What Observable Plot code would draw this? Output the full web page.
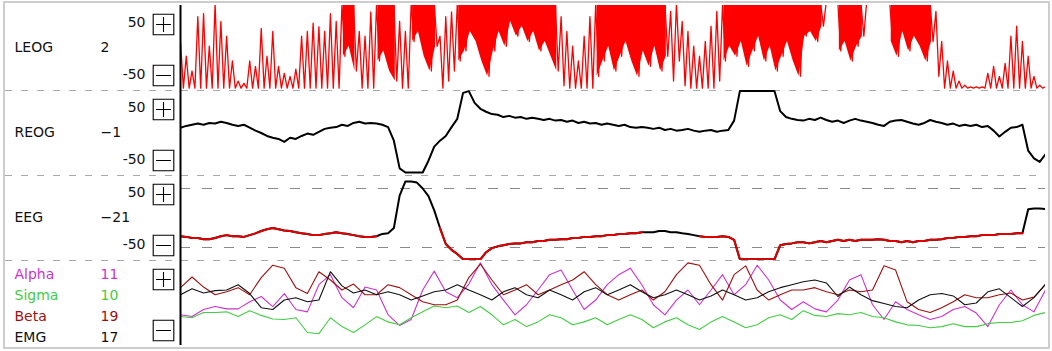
<!DOCTYPE html>
<html>
<head>
<meta charset="utf-8">
<script src="https://cdn.jsdelivr.net/npm/d3@7"></script>
<script src="https://cdn.jsdelivr.net/npm/@observablehq/plot@0.6"></script>
<style>
  body { margin: 0; background: #fff; }
  #wrap { position: relative; width: 1052px; height: 351px; }
  #wrap svg { position: absolute; left: 0; top: 0; }
  #border { position: absolute; left: 3px; top: 1px; width: 1043px; height: 344px;
            border: 2px solid #cdcdcd; pointer-events: none; }
</style>
</head>
<body>
<div id="wrap"><div id="border"></div></div>
<script>
// 30-second epoch viewer: two EOG channels, one EEG channel and band-power traces.
const epoch = 30;          // seconds shown
const leogStep = 0.2;      // envelope column width (s)
const eogStep = 0.2;       // REOG / EEG sample spacing (s)
const bandStep = 0.4;      // band-power sample spacing (s)

const channels = ["LEOG", "REOG", "EEG", "Bands"];
const channelNames = ["LEOG", "REOG", "EEG"];
const channelReadouts = ["2", "−1", "−21"];
const scaleTop = "50";
const scaleBottom = "-50";

// LEOG: per-column upper and lower extent of the fast trace (values above 72 run off the strip)
const leogHi = [11,-14,-39,53,58,3,75,45,20,-22,
  -56,-60,-22,-31,33,-14,28,-31,-43,-48,
  -36,20,28,42,36,28,58,45,75,75,
  75,28,20,61,75,75,75,75,45,28,
  75,75,75,75,75,20,53,61,75,75,
  75,75,75,75,75,75,75,75,75,75,
  75,75,75,75,75,75,53,28,3,-22,
  20,53,75,75,75,75,75,75,75,75,
  75,75,75,75,75,62,75,45,28,3,
  -14,11,37,62,75,75,75,75,75,75,
  75,75,75,75,75,75,75,75,75,75,
  75,75,80,80,75,75,75,75,75,80,
  80,80,80,75,75,75,75,75,75,75,
  75,62,11,-22,-39,-56,-63,-66,-66,-66,
  -43,-31,-48,-26,20,37,11,-14,-48,-63,
  -66];
const leogLo = [-68,-68,-68,-68,-68,-68,-68,-68,-68,-68,
  -68,-68,-68,-68,-68,-68,-68,-68,-68,-68,
  -68,-68,-68,-68,-68,-68,-68,-68,-14,3,
  -39,-68,-68,-68,-22,-5,-39,-56,-68,-68,
  11,28,-14,-39,3,-68,-56,-39,-22,-5,
  28,11,-22,-48,-5,28,3,45,20,37,
  11,28,-5,11,-14,-39,-64,-68,-68,-68,
  -68,-68,-48,-22,3,-39,-14,11,-22,-48,
  -5,-31,3,-39,-14,-56,-22,-64,-68,-68,
  -68,-68,-68,-56,-22,3,-14,11,-31,-5,
  20,-22,3,-39,-14,11,-22,-48,20,28,
  11,37,80,80,-5,11,-22,3,20,80,
  80,80,80,11,-14,28,-5,20,3,-22,
  11,-48,-68,-68,-68,-68,-68,-68,-68,-68,
  -68,-68,-68,-68,-68,-68,-68,-68,-68,-68,
  -68];

const reog = [9,12,14,16,14,17,16,19,17,14,
  12,14,9,4,0,-5,-8,-10,-15,-8,
  -10,-5,-1,-3,2,7,9,10,14,12,
  17,19,16,17,16,14,10,-13,-60,-67,
  -67,-67,-67,-47,-23,-13,-5,10,24,68,
  71,51,41,36,32,31,27,29,26,27,
  24,26,24,22,24,21,22,19,21,17,
  19,16,17,14,16,14,12,14,10,9,
  10,9,7,9,5,7,4,5,7,4,
  2,4,5,2,4,5,21,71,71,71,
  71,71,71,71,37,27,24,22,21,24,
  22,26,22,19,21,17,21,24,21,19,
  17,14,12,19,21,22,19,16,14,17,
  22,19,17,14,16,12,14,12,14,10,
  12,4,-6,2,9,10,14,-30,-43,-49,
  -36];

const eeg = [-31,-32,-34,-34,-36,-36,-34,-31,-29,-31,
  -31,-32,-29,-26,-22,-19,-17,-19,-21,-22,
  -24,-26,-27,-29,-29,-27,-26,-24,-26,-27,
  -29,-31,-32,-32,-31,-27,-26,-17,38,62,
  62,60,50,37,13,-17,-44,-54,-61,-70,
  -70,-70,-70,-58,-51,-48,-46,-44,-43,-43,
  -41,-41,-39,-39,-37,-37,-36,-36,-34,-34,
  -32,-32,-31,-31,-29,-29,-27,-27,-26,-26,
  -24,-24,-24,-22,-22,-24,-24,-26,-27,-29,
  -31,-32,-32,-32,-31,-32,-37,-70,-70,-70,
  -70,-70,-70,-70,-46,-44,-43,-41,-41,-43,
  -41,-39,-41,-39,-37,-39,-37,-39,-37,-37,
  -37,-36,-37,-39,-39,-41,-39,-41,-39,-39,
  -37,-37,-36,-34,-34,-32,-32,-31,-31,-29,
  -29,-29,-27,-27,-27,-26,-26,15,16,16,
  15];
// stretches of the EEG trace drawn in red (start, end seconds)
const eegRed = [[0, 6.8], [9.0, 16.0], [18.0, 29.2]];
const eegRefs = [50, -50];

const bandNames = ["Alpha", "Sigma", "Beta", "EMG"];
const bandReadouts = ["11", "10", "19", "17"];
const bandColors = ["#cc33cc", "#44cc44", "#9e1010", "#111111"];
const alpha = [-20,-23,-11,-6,-10,-10,2,11,-6,16, -11,-15,31,48,9,-8,27,22,-20,-38,
  -28,22,54,19,9,32,68,31,5,-20, -3,22,48,56,22,-11,5,31,48,59,
  31,-3,-20,5,22,-3,22,48,14,31, 64,39,5,-11,2,-10,-15,5,39,48,
  -3,-28,2,-11,-20,-28,-23,-11,-6,-17, -40,-3,22,-3,-15,22];
const sigma = [-23,-25,-16,-16,-15,-23,-13,-21,-27,-28, -25,-50,-52,-25,-40,-50,-37,-23,-32,-37,
  -25,-15,-5,-8,-5,-16,-6,-20,-37,-28, -40,-32,-20,-25,-37,-32,-25,-37,-28,-20,
  -28,-42,-32,-25,-37,-45,-32,-23,-32,-42, -37,-25,-20,-28,-13,-21,-23,-18,-20,-16,
  -23,-25,-32,-37,-38,-42,-40,-35,-40,-40, -35,-33,-33,-30,-21,-16];
const beta = [26,44,27,14,19,26,14,43,64,59, 26,16,53,39,22,32,14,14,31,26,
  14,2,-3,-3,5,43,66,39,14,22, 31,14,22,31,39,53,31,14,5,14,
  22,5,19,48,68,64,31,5,48,63, 22,5,14,22,22,26,19,14,22,19,
  22,63,56,2,-11,-16,-8,2,14,9, 9,14,17,5,10,31];
const emg = [14,24,17,21,22,31,16,-8,-11,5, 9,2,5,53,29,17,22,14,19,14,
  5,12,19,22,31,22,14,5,19,26, 14,9,22,14,5,19,26,14,22,31,
  19,9,14,22,14,5,12,22,14,5, 9,19,26,31,36,39,34,11,27,14,
  4,-1,-6,-8,5,14,16,12,-3,0, 19,24,9,-6,9,32];
const bandValues = [alpha, sigma, beta, emg];

const yDomain = [-72, 72];
const clipLevel = 72;

// ---- tables built from the arrays above ----
const leogData = leogHi.flatMap((h, i) => [
  {panel: "LEOG", t: i * leogStep, v: h},
  {panel: "LEOG", t: i * leogStep + leogStep / 2, v: leogLo[i]}
]);
const leogCols = leogHi.map((h, i) => ({panel: "LEOG", t: i * leogStep + leogStep / 4, hi: h, lo: leogLo[i]}));
const reogData = reog.map((v, i) => ({panel: "REOG", t: i * eogStep, v}));
const eegData = eeg.map((v, i) => {
  const t = i * eogStep;
  return {panel: "EEG", t, v, red: eegRed.some(([a, b]) => t >= a - 1e-9 && t <= b + 1e-9)};
});
const sepData = channels.slice(0, 3).map(p => ({panel: p, y: yDomain[0]}));
const refData = eegRefs.map(y => ({panel: "EEG", y}));
const axisData = channels.map(p => ({panel: p, x: 0}));
const labelData = channelNames.map((name, i) => ({panel: name, name, readout: channelReadouts[i]}));

// box with a plus or minus sign, used for the zoom buttons
const boxSymbol = (plus) => ({
  draw(ctx, size) {
    const r = Math.sqrt(size / Math.PI);
    ctx.moveTo(-r, -r); ctx.lineTo(r, -r); ctx.lineTo(r, r); ctx.lineTo(-r, r); ctx.closePath();
    const a = r * 0.72;
    ctx.moveTo(-a, 0); ctx.lineTo(a, 0);
    if (plus) { ctx.moveTo(0, -a); ctx.lineTo(0, a); }
  }
});

const font = "'DejaVu Sans', Verdana, sans-serif";
const txt = {lineAnchor: "middle", fill: "#111"};
const marks = [
  // dashed separators between the channel strips
  Plot.ruleY(sepData, {y: "y", fy: "panel", stroke: "#a9a9a9", strokeDasharray: "7,9", insetLeft: -175}),
  // EEG ±50 guides
  Plot.ruleY(refData, {y: "y", fy: "panel", stroke: "#8a8a8a", strokeDasharray: "10,12"}),
  // LEOG: saturated stretches filled, then the fast trace itself
  Plot.areaY(leogCols, {x: "t", y1: d => d.hi >= clipLevel && d.lo < clipLevel ? d.lo : NaN, y2: "hi", fy: "panel",
      fill: "#ff0000", clip: true}),
  Plot.line(leogData, {x: "t", y: "v", fy: "panel", stroke: "#ff0000", strokeWidth: 1.3, clip: true}),
  Plot.line(reogData, {x: "t", y: "v", fy: "panel", stroke: "#000", strokeWidth: 2, clip: true}),
  Plot.line(eegData, {x: "t", y: "v", fy: "panel", stroke: "#000", strokeWidth: 2, clip: true}),
  Plot.line(eegData, {x: "t", y: d => d.red ? d.v : NaN, fy: "panel", stroke: "#e00000", strokeWidth: 2, clip: true}),
  ...bandValues.map((vals, k) => Plot.line(
    vals.map((v, i) => ({panel: "Bands", t: i * bandStep, v})),
    {x: "t", y: "v", fy: "panel", stroke: bandColors[k], strokeWidth: 1.1, clip: true})),
  // vertical axis line on the left of every strip
  Plot.ruleX(axisData, {x: "x", fy: "panel", stroke: "#000", strokeWidth: 2}),
  // channel names and readouts
  Plot.text(labelData, {fy: "panel", text: "name", frameAnchor: "left", dx: -166, textAnchor: "start", ...txt}),
  Plot.text(labelData, {fy: "panel", text: "readout", frameAnchor: "left", dx: -80, textAnchor: "start", ...txt}),
  Plot.text(labelData, {fy: "panel", text: () => scaleTop, frameAnchor: "top-left", dx: -35, dy: 17, textAnchor: "end", ...txt}),
  Plot.text(labelData, {fy: "panel", text: () => scaleBottom, frameAnchor: "bottom-left", dx: -35, dy: -16, textAnchor: "end", ...txt}),
  ...bandNames.map((name, k) => Plot.text([name], {fy: () => "Bands", text: d => d, frameAnchor: "top-left",
      dx: -166, dy: 14.5 + 21 * k, textAnchor: "start", lineAnchor: "middle", fill: bandColors[k]})),
  ...bandReadouts.map((val, k) => Plot.text([val], {fy: () => "Bands", text: d => d, frameAnchor: "top-left",
      dx: -80, dy: 14.5 + 21 * k, textAnchor: "start", lineAnchor: "middle", fill: bandColors[k]})),
  // zoom buttons
  Plot.dot(channels, {fy: d => d, frameAnchor: "top-left", dx: -17, dy: 19, r: 10.3,
      symbol: boxSymbol(true), stroke: "#000", strokeWidth: 1.1, fill: "#fff"}),
  Plot.dot(channels, {fy: d => d, frameAnchor: "bottom-left", dx: -17, dy: -15, r: 10.3,
      symbol: boxSymbol(false), stroke: "#000", strokeWidth: 1.1, fill: "#fff"})
];

const chart = Plot.plot({
  width: 1052,
  height: 351,
  marginLeft: 180,
  marginRight: 7,
  marginTop: 4,
  marginBottom: 5,
  x: {domain: [0, epoch], axis: null},
  y: {domain: yDomain, axis: null},
  fy: {domain: channels, axis: null, padding: 0},
  style: {fontFamily: font, fontSize: "14px", background: "transparent", overflow: "visible"},
  marks
});
document.getElementById("wrap").prepend(chart);
</script>
</body>
</html>
